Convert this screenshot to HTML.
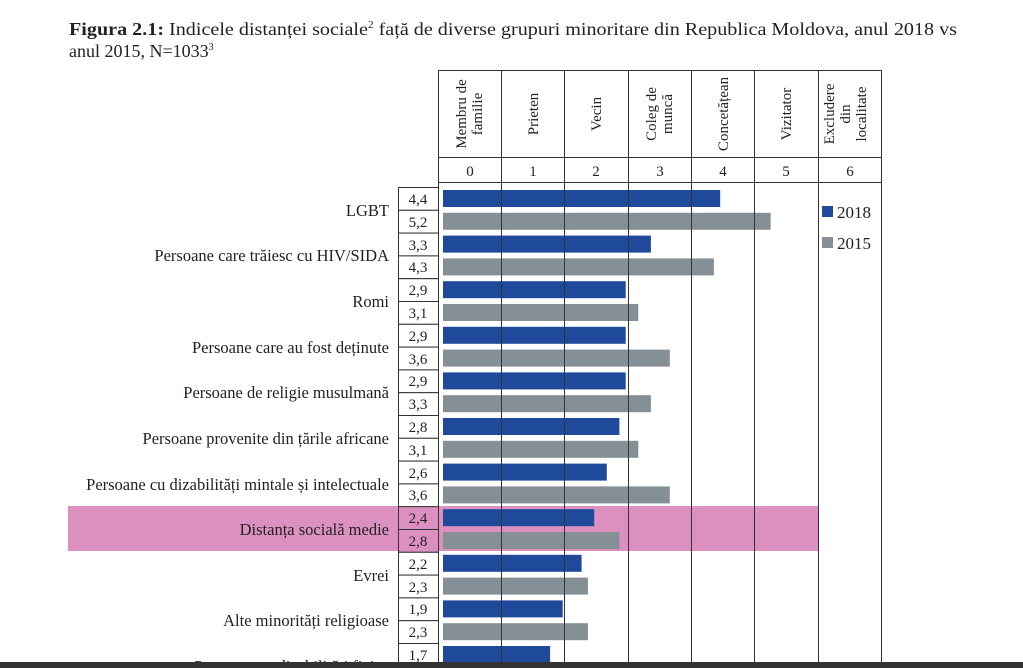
<!DOCTYPE html>
<html><head><meta charset="utf-8"><style>
html,body{margin:0;padding:0;background:#fff;}
svg{display:block;font-family:"Liberation Serif",serif;}
</style></head><body>
<svg width="1023" height="668" viewBox="0 0 1023 668" xmlns="http://www.w3.org/2000/svg">
<text x="69" y="35" font-size="18" fill="#222" textLength="888" lengthAdjust="spacingAndGlyphs"><tspan font-weight="bold">Figura 2.1:</tspan> Indicele distanței sociale<tspan font-size="10" dy="-7">2</tspan><tspan dy="7"> față de diverse grupuri minoritare din Republica Moldova, anul 2018 vs</tspan></text>
<text x="69" y="57" font-size="18" fill="#222">anul 2015, N=1033<tspan font-size="10" dy="-7">3</tspan></text>
<rect x="68" y="506" width="750" height="45" fill="#dc90c0"/>
<g fill="#222" font-size="16.5" text-anchor="end">
<text x="389" y="216">LGBT</text>
<text x="389" y="261">Persoane care trăiesc cu HIV/SIDA</text>
<text x="389" y="307">Romi</text>
<text x="389" y="353">Persoane care au fost deținute</text>
<text x="389" y="398">Persoane de religie musulmană</text>
<text x="389" y="444">Persoane provenite din țările africane</text>
<text x="389" y="490">Persoane cu dizabilități mintale și intelectuale</text>
<text x="389" y="535">Distanța socială medie</text>
<text x="389" y="581">Evrei</text>
<text x="389" y="626">Alte minorități religioase</text>
<text x="389" y="672">Persoane cu dizabilități fizice</text>
</g>
<g fill="#fff" stroke="#333" stroke-width="1">
<rect x="398.5" y="187.5" width="40" height="22.8"/><rect x="398.5" y="210.3" width="40" height="22.8"/>
<rect x="398.5" y="233.1" width="40" height="22.8"/><rect x="398.5" y="255.9" width="40" height="22.8"/>
<rect x="398.5" y="278.7" width="40" height="22.8"/><rect x="398.5" y="301.5" width="40" height="22.8"/>
<rect x="398.5" y="324.3" width="40" height="22.8"/><rect x="398.5" y="347.1" width="40" height="22.8"/>
<rect x="398.5" y="369.9" width="40" height="22.8"/><rect x="398.5" y="392.7" width="40" height="22.8"/>
<rect x="398.5" y="415.5" width="40" height="22.8"/><rect x="398.5" y="438.3" width="40" height="22.8"/>
<rect x="398.5" y="461.1" width="40" height="22.8"/><rect x="398.5" y="483.9" width="40" height="22.8"/>
<rect x="398.5" y="506.7" width="40" height="22.8" fill="#dc90c0"/><rect x="398.5" y="529.5" width="40" height="22.8" fill="#dc90c0"/>
<rect x="398.5" y="552.3" width="40" height="22.8"/><rect x="398.5" y="575.1" width="40" height="22.8"/>
<rect x="398.5" y="597.9" width="40" height="22.8"/><rect x="398.5" y="620.7" width="40" height="22.8"/>
<rect x="398.5" y="643.5" width="40" height="22.8"/>
</g>
<g fill="#222" font-size="15" text-anchor="middle">
<text x="418" y="204">4,4</text><text x="418" y="227">5,2</text>
<text x="418" y="250">3,3</text><text x="418" y="272">4,3</text>
<text x="418" y="295">2,9</text><text x="418" y="318">3,1</text>
<text x="418" y="341">2,9</text><text x="418" y="364">3,6</text>
<text x="418" y="386">2,9</text><text x="418" y="409">3,3</text>
<text x="418" y="432">2,8</text><text x="418" y="455">3,1</text>
<text x="418" y="478">2,6</text><text x="418" y="500">3,6</text>
<text x="418" y="523">2,4</text><text x="418" y="546">2,8</text>
<text x="418" y="569">2,2</text><text x="418" y="592">2,3</text>
<text x="418" y="614">1,9</text><text x="418" y="637">2,3</text>
<text x="418" y="660">1,7</text>
</g>
<g fill="#1f4a9c">
<rect x="443" y="190" width="277.2" height="17"/>
<rect x="443" y="235.6" width="207.9" height="17"/>
<rect x="443" y="281.2" width="182.7" height="17"/>
<rect x="443" y="326.8" width="182.7" height="17"/>
<rect x="443" y="372.4" width="182.7" height="17"/>
<rect x="443" y="418" width="176.4" height="17"/>
<rect x="443" y="463.6" width="163.8" height="17"/>
<rect x="443" y="509.2" width="151.2" height="17"/>
<rect x="443" y="554.8" width="138.6" height="17"/>
<rect x="443" y="600.4" width="119.7" height="17"/>
<rect x="443" y="646" width="107.1" height="17"/>
</g>
<g fill="#858f96">
<rect x="443" y="212.8" width="327.6" height="17"/>
<rect x="443" y="258.4" width="270.9" height="17"/>
<rect x="443" y="304" width="195.3" height="17"/>
<rect x="443" y="349.6" width="226.8" height="17"/>
<rect x="443" y="395.2" width="207.9" height="17"/>
<rect x="443" y="440.8" width="195.3" height="17"/>
<rect x="443" y="486.4" width="226.8" height="17"/>
<rect x="443" y="532" width="176.4" height="17"/>
<rect x="443" y="577.6" width="144.9" height="17"/>
<rect x="443" y="623.2" width="144.9" height="17"/>
</g>
<g stroke="#333" stroke-width="1" fill="none">
<rect x="438.5" y="70.5" width="443" height="112"/>
<line x1="438" y1="157.5" x2="881" y2="157.5"/>
<line x1="501.5" y1="70" x2="501.5" y2="668"/>
<line x1="564.5" y1="70" x2="564.5" y2="668"/>
<line x1="628.5" y1="70" x2="628.5" y2="668"/>
<line x1="691.5" y1="70" x2="691.5" y2="668"/>
<line x1="754.5" y1="70" x2="754.5" y2="668"/>
<line x1="818.5" y1="70" x2="818.5" y2="668"/>
<line x1="881.5" y1="70" x2="881.5" y2="668"/>
<line x1="438.5" y1="183" x2="438.5" y2="668"/>
</g>
<g font-size="15" fill="#222" text-anchor="middle">
<text x="470" y="176">0</text><text x="533" y="176">1</text><text x="596" y="176">2</text><text x="660" y="176">3</text><text x="723" y="176">4</text><text x="786" y="176">5</text><text x="850" y="176">6</text>
</g>
<g font-size="15" fill="#222" text-anchor="middle">
<text transform="translate(466,114) rotate(-90)">Membru de</text>
<text transform="translate(482,114) rotate(-90)">familie</text>
<text transform="translate(538,114) rotate(-90)">Prieten</text>
<text transform="translate(601,114) rotate(-90)">Vecin</text>
<text transform="translate(656,114) rotate(-90)">Coleg de</text>
<text transform="translate(672,114) rotate(-90)">muncă</text>
<text transform="translate(728,114) rotate(-90)">Concetățean</text>
<text transform="translate(791,114) rotate(-90)">Vizitator</text>
<text transform="translate(834,114) rotate(-90)">Excludere</text>
<text transform="translate(850,114) rotate(-90)">din</text>
<text transform="translate(866,114) rotate(-90)">localitate</text>
</g>
<rect x="822" y="206" width="11" height="11" fill="#1f4a9c"/>
<text x="837" y="218" font-size="17" fill="#222">2018</text>
<rect x="822" y="237" width="11" height="11" fill="#858f96"/>
<text x="837" y="249" font-size="17" fill="#222">2015</text>
<rect x="0" y="662" width="1023" height="6" fill="#333"/>
</svg>
</body></html>
